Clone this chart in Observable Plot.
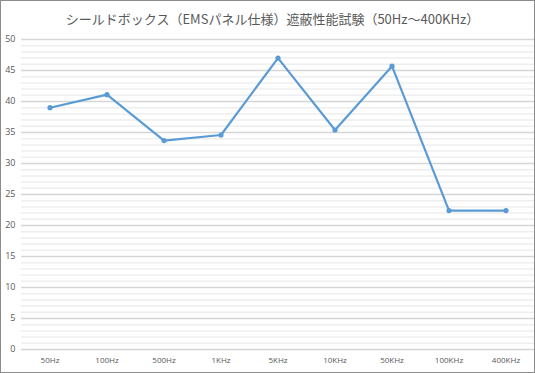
<!DOCTYPE html>
<html><head><meta charset="utf-8">
<script src="https://cdn.jsdelivr.net/npm/d3@7"></script>
<script src="https://cdn.jsdelivr.net/npm/@observablehq/plot@0.6"></script>
<style>
body{margin:0;background:#fff;}
#wrap{position:relative;width:535px;height:373px;box-sizing:border-box;border:1px solid #8c8c8c;background:#fff;overflow:hidden;}
#title{position:absolute;top:8px;left:0;width:533px;text-align:center;font-family:"Noto Sans CJK JP","Noto Sans",sans-serif;font-size:13px;color:#595959;white-space:nowrap;padding-left:10px;box-sizing:border-box;}
#chart{position:absolute;top:0;left:0;}
</style></head>
<body>
<div id="wrap"><div id="title">シールドボックス（EMSパネル仕様）遮蔽性能試験（50Hz～400KHz）</div><div id="chart"></div></div>
<script>
const categories = ["50Hz","100Hz","500Hz","1KHz","5KHz","10KHz","50KHz","100KHz","400KHz"];
const values = [39.0, 41.1, 33.7, 34.6, 47.0, 35.4, 45.7, 22.4, 22.4];
const majorTicks = [0,5,10,15,20,25,30,35,40,45,50];
const minorTicks = d3.range(0, 51, 1).filter(v => v % 5 !== 0);

const data = categories.map((c,i)=>({cat:c, val:values[i]}));

const chart = Plot.plot({
  width: 533, height: 371,
  marginTop: 38, marginBottom: 23, marginLeft: 20, marginRight: 0,
  style: {fontFamily: "'Open Sans','Noto Sans',sans-serif", color:"#595959", background:"transparent"},
  x: {type:"band", domain: categories, padding: 0, label: null, tickSize: 0, tickPadding: 7},
  y: {domain:[0,50], ticks: majorTicks, label: null, tickSize: 0, tickPadding: 7},
  marks: [
    Plot.ruleY(minorTicks, {stroke:"#eeeeee", strokeWidth:1.5}),
    Plot.ruleY(majorTicks, {stroke:"#d6d6d6", strokeWidth:1.5}),
    Plot.axisY({ticks: majorTicks, tickSize:0, tickPadding:6, fontSize:9, label:null}),
    Plot.axisX({tickSize:0, tickPadding:8, fontSize:8, label:null}),
    Plot.line(data, {x:"cat", y:"val", stroke:"#5b9bd5", strokeWidth:2.2}),
    Plot.dot(data, {x:"cat", y:"val", fill:"#5b9bd5", r:2.6})
  ]
});
document.getElementById("chart").appendChild(chart);
</script>
</body></html>
